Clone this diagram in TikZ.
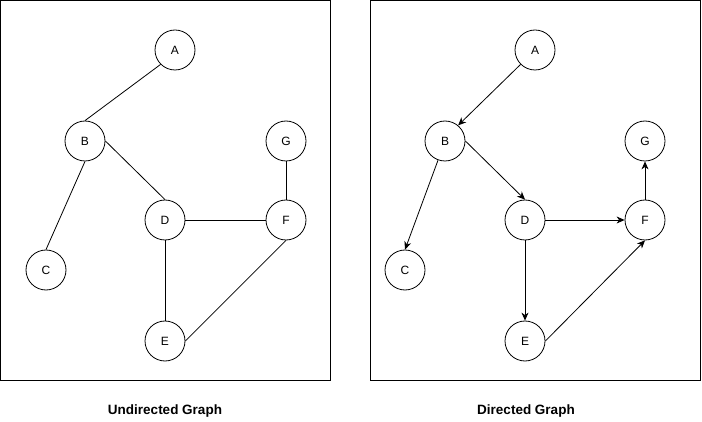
\documentclass[tikz,border=0pt]{standalone}
\usepackage{fontspec}
\setmainfont{Liberation Sans}
\usepackage{tikz}
\usetikzlibrary{arrows.meta,automata}

\begin{document}
\begin{tikzpicture}[
  x=1pt, y=-1pt,
  >={Stealth[length=8pt,width=7pt,inset=2.5pt]},
  every state/.style={minimum size=40pt, inner sep=0pt, line width=0.8pt},
  every edge/.style={draw, line width=0.8pt},
  panel/.style={draw, line width=1pt},
  caption/.style={font=\fontsize{13.5}{15}\selectfont\bfseries},
  font=\fontsize{12}{14}\selectfont
]
\useasboundingbox (0,0) rectangle (702,422);
\draw[panel] (0.5,0.5) rectangle (330.5,380.5);
\draw[panel] (370.5,0.5) rectangle (700.5,380.5);
% undirected graph
\node[state] (uA) at (175,50) {A};
\node[state] (uB) at (85,141) {B};
\node[state] (uG) at (286,141) {G};
\node[state] (uD) at (165,220) {D};
\node[state] (uF) at (286,220) {F};
\node[state] (uC) at (46,270) {C};
\node[state] (uE) at (165,341) {E};
\path
  (uA.225) edge (uB.north)
  (uB.east) edge (uD.north)
  (uB.south) edge (uC.north)
  (uD.east) edge (uF.west)
  (uD.south) edge (uE.north)
  (uE.east) edge (uF.south)
  (uF.north) edge (uG.south);
% directed graph
\node[state] (dA) at (535,50) {A};
\node[state] (dB) at (445,141) {B};
\node[state] (dG) at (645,141) {G};
\node[state] (dD) at (525,220) {D};
\node[state] (dF) at (645,220) {F};
\node[state] (dC) at (405,270) {C};
\node[state] (dE) at (525,341) {E};
\path[->]
  (dA.225) edge (dB.50)
  (dB.east) edge (dD.north)
  (dB.250) edge (dC.north)
  (dD.east) edge (dF.west)
  (dD.south) edge (dE.north)
  (dE.east) edge (dF.south)
  (dF.north) edge (dG.south);
\node[caption] (ucap) at (165,411) {Undirected Graph};
\node[caption] (dcap) at (526,411) {Directed Graph};
\end{tikzpicture}
\end{document}
